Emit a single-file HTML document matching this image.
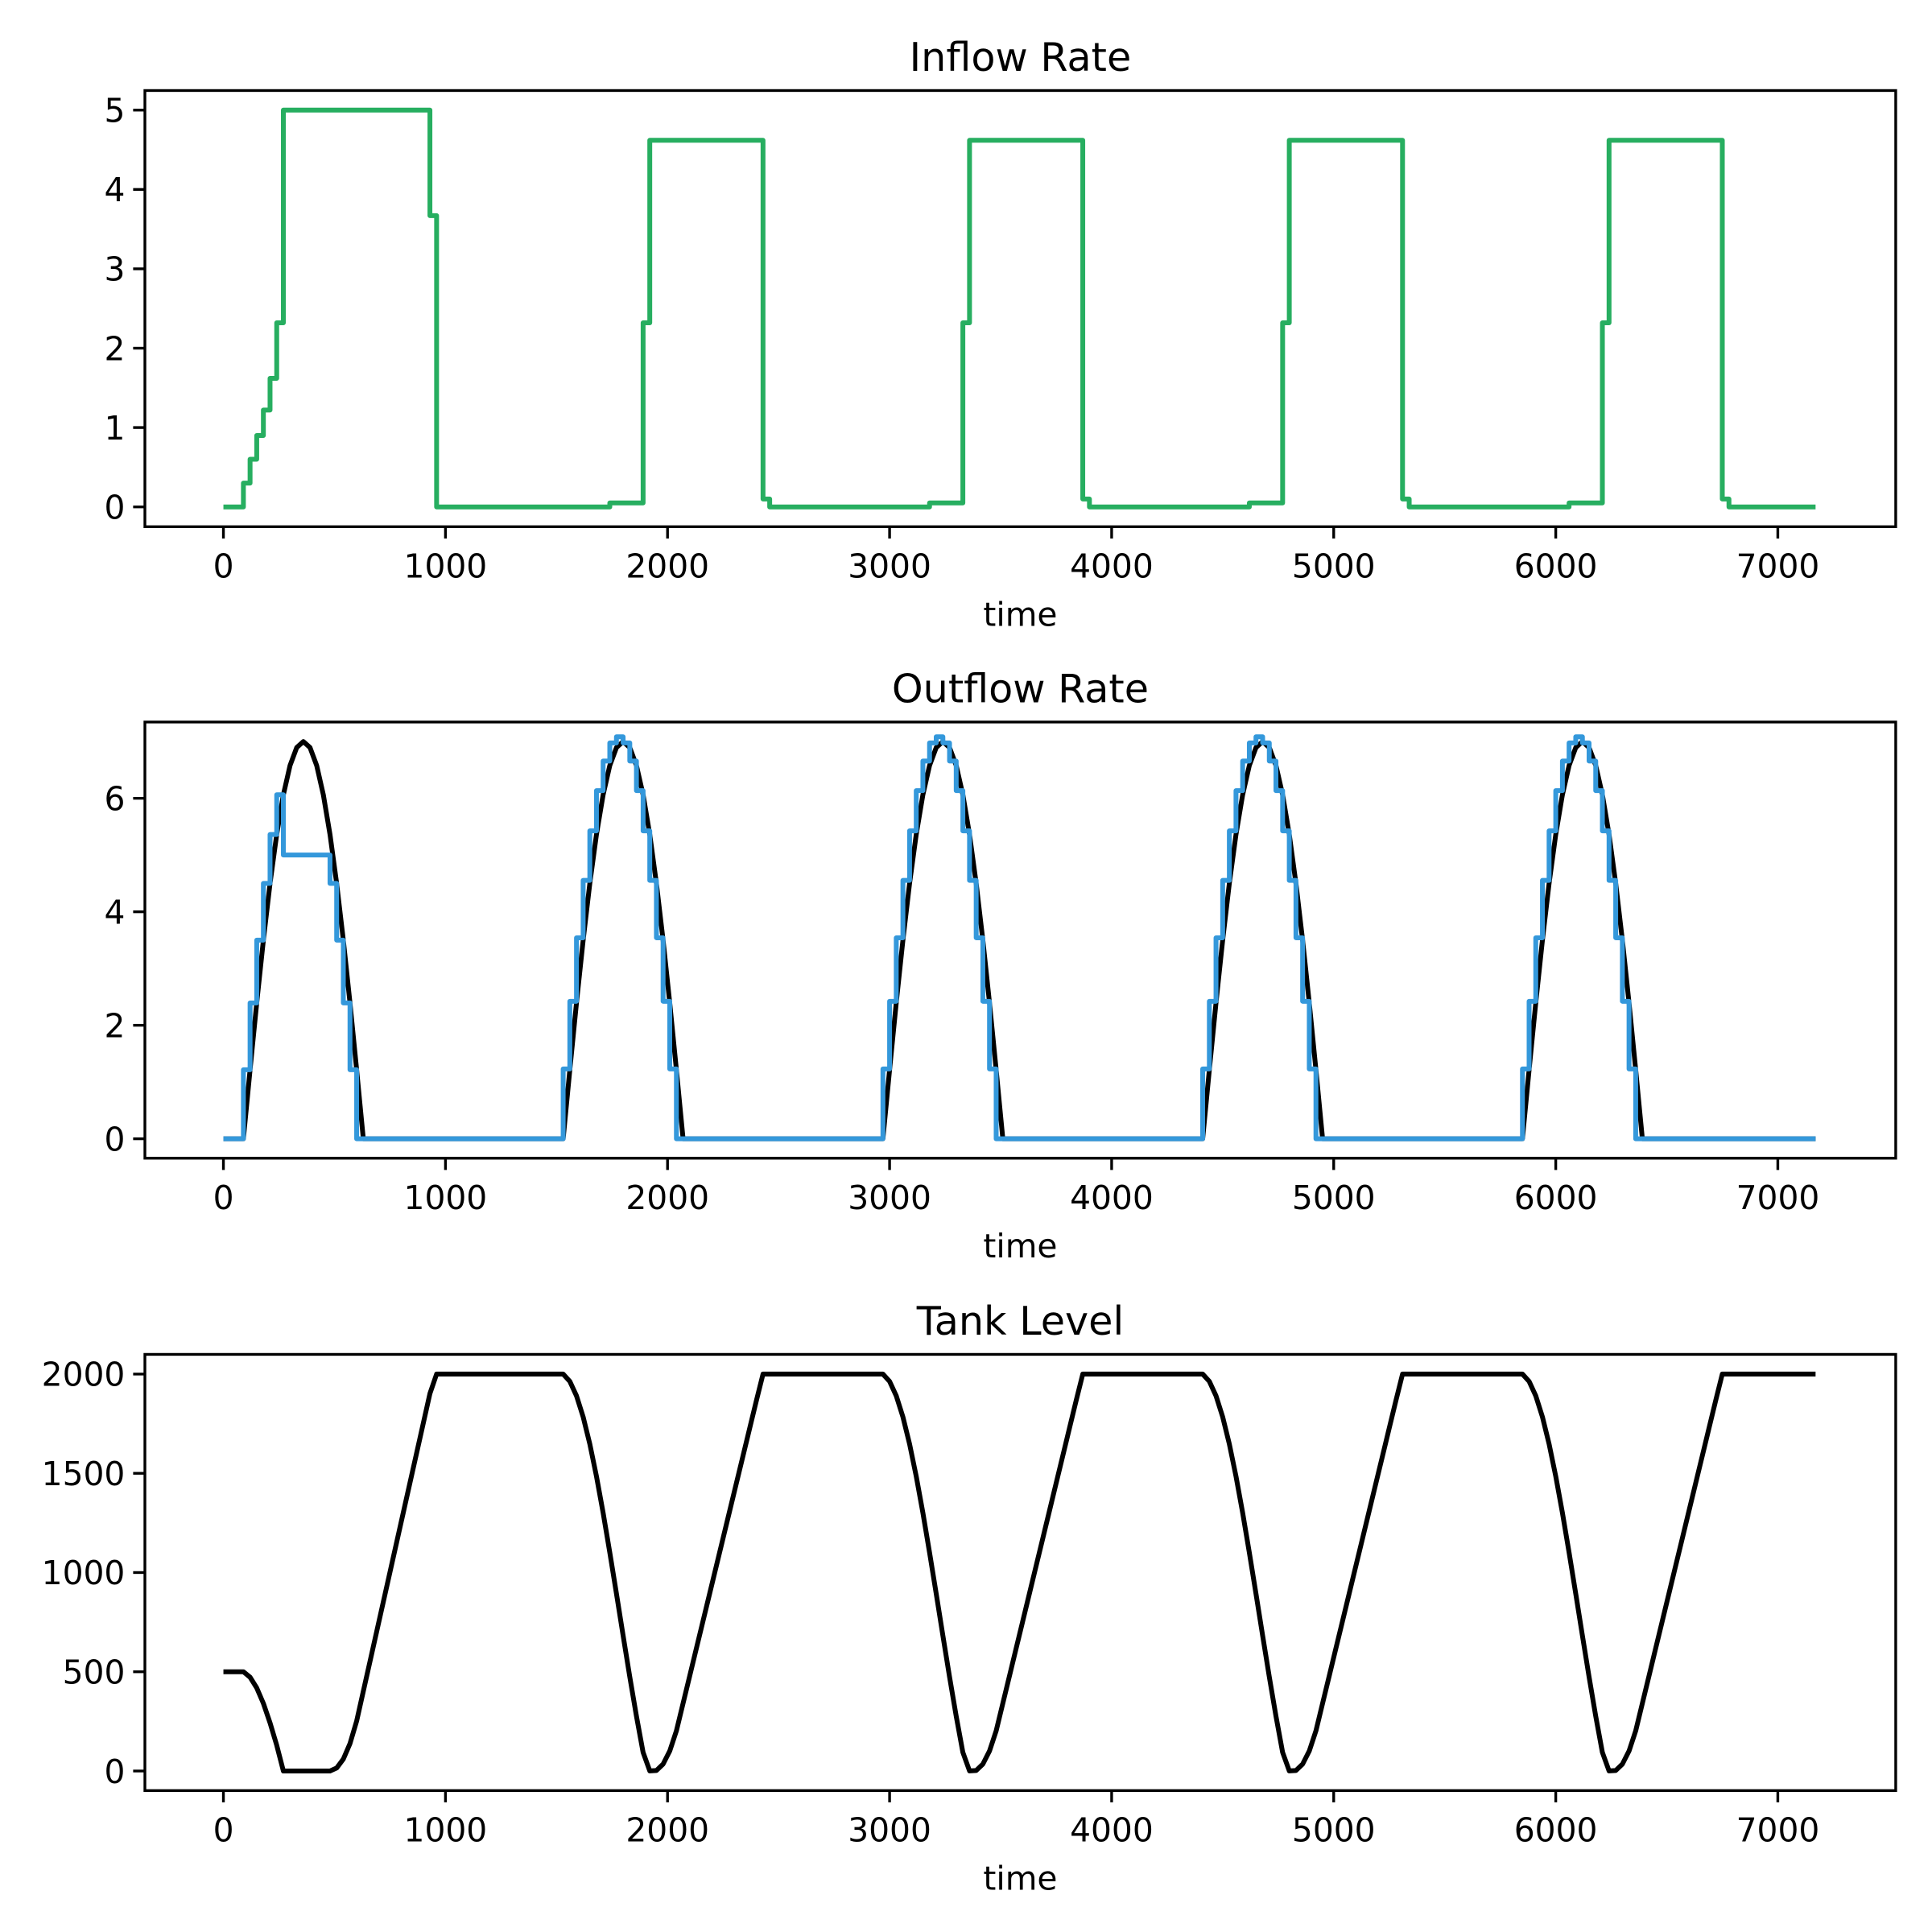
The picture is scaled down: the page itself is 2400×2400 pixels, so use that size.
<!DOCTYPE html>
<html><head><meta charset="utf-8"><style>html,body{margin:0;padding:0;background:#fff}svg{display:block}</style></head>
<body>
<svg id="s" xmlns="http://www.w3.org/2000/svg" width="2400" height="2400" viewBox="0 0 1560 1560" font-family="'DejaVu Sans','Liberation Sans',sans-serif"></svg>
<script>
const S=document.getElementById('s');
const X=t=>180.4+t*0.17930;
const L=117,R=1530.7,CX=(L+R)/2;
let out='<rect width="1560" height="1560" fill="#fff"/>';
const N=240, dt=30;
function inflow(t){
  if(t<1440){
    if(t<90)return 0;
    const st=[[90,0.3],[120,0.6],[150,0.9],[180,1.22],[210,1.62],[240,2.32],[270,5],[930,3.67],[960,0]];
    let v=0;for(const [a,b] of st) if(t>=a) v=b; return v;
  }
  const c=Math.floor(t/1440), r=t-1440*c;
  if(r<300)return 0; if(r<450)return 0.05; if(r<480)return 2.32; if(r<990)return 4.62; if(r<1020)return 0.1; return 0;
}
function demandStep(t){
  if(t<90)return 0;
  const r=((t-90)%1440+1440)%1440;
  const k=Math.floor(r/30)+1; if(k>=18)return 0;
  return 7*Math.sin(k*10*Math.PI/180);
}
function demandPt(t){
  if(t<90)return 0; const r=((t-90)%1440); if(r>540)return 0;
  return 7*Math.sin(r/540*Math.PI);
}
let lvl=500, ins=[], outs=[], lv=[];
for(let i=0;i<N;i++){
  const t=i*dt; const a=inflow(t); let d=demandStep(t);
  if(t>=270&&t<480) d=5;
  if(t>=1440) d*=1.012;
  const mx=lvl/dt+a; if(d>mx) d=mx;
  lv.push([t,lvl]); ins.push([t,a]); outs.push([t,d]);
  lvl=Math.max(0,Math.min(2000,lvl+dt*(a-d)));
  if(t>=240&&t<480) lvl=0;
}
const TEND=7170;
function stepPath(arr,Y){
  let p='';
  arr.forEach(([t,v],i)=>{const y=Y(v).toFixed(2);
    p+=(i?'L':'M')+X(t).toFixed(2)+' '+y;
    const t2=Math.min(t+dt,TEND); p+='L'+X(t2).toFixed(2)+' '+y;});
  return p;
}
function axes(top,bot,title,yt,Y){
  let s='';
  s+=`<text x="${CX}" y="${top-16}" font-size="32" text-anchor="middle">${title}</text>`;
  for(const [v,lab] of yt){const y=Y(v);
    s+=`<line x1="${L-9.5}" x2="${L}" y1="${y}" y2="${y}" stroke="#000" stroke-width="2.2"/>`;
    s+=`<text x="${L-16}" y="${y+9.6}" font-size="26.5" text-anchor="end">${lab}</text>`;}
  for(let k=0;k<=7;k++){const x=X(k*1000);
    s+=`<line x1="${x}" x2="${x}" y1="${bot}" y2="${bot+9.5}" stroke="#000" stroke-width="2.2"/>`;
    s+=`<text x="${x}" y="${bot+41}" font-size="26.5" text-anchor="middle">${k*1000}</text>`;}
  s+=`<text x="${CX}" y="${bot+80}" font-size="26.5" text-anchor="middle">time</text>`;
  return s;
}
function frame(top,bot){return `<rect x="${L}" y="${top}" width="${R-L}" height="${bot-top}" fill="none" stroke="#000" stroke-width="2.2"/>`;}
const SW=3.9;
{const top=73.1,bot=425.3,Y=v=>409.3-v*64.08;
 out+=axes(top,bot,'Inflow Rate',[[0,0],[1,1],[2,2],[3,3],[4,4],[5,5]],Y);
 out+=`<path d="${stepPath(ins,Y)}" fill="none" stroke="#27ae60" stroke-width="${SW}" stroke-linejoin="round"/>`;
 out+=frame(top,bot);}
{const top=583,bot=935.2,Y=v=>919.5-v*45.82;
 out+=axes(top,bot,'Outflow Rate',[[0,0],[2,2],[4,4],[6,6]],Y);
 let p='';for(let i=0;i<N;i++){const t=Math.min(i*dt,TEND);p+=(i?'L':'M')+X(t).toFixed(2)+' '+Y(demandPt(t)).toFixed(2);}
 out+=`<path d="${p}" fill="none" stroke="#000" stroke-width="${SW}" stroke-linejoin="round"/>`;
 out+=`<path d="${stepPath(outs,Y)}" fill="none" stroke="#3498db" stroke-width="${SW}" stroke-linejoin="round"/>`;
 out+=frame(top,bot);}
{const top=1093.6,bot=1445.8,Y=v=>1430-v*0.16025;
 out+=axes(top,bot,'Tank Level',[[0,0],[500,500],[1000,1000],[1500,1500],[2000,2000]],Y);
 let p='';lv.forEach(([t,v],i)=>{p+=(i?'L':'M')+X(t).toFixed(2)+' '+Y(v).toFixed(2);});
 p+='L'+X(TEND).toFixed(2)+' '+Y(lvl).toFixed(2);
 out+=`<path d="${p}" fill="none" stroke="#000" stroke-width="${SW}" stroke-linejoin="round"/>`;
 out+=frame(top,bot);}
S.innerHTML=out;
</script>
</body></html>
